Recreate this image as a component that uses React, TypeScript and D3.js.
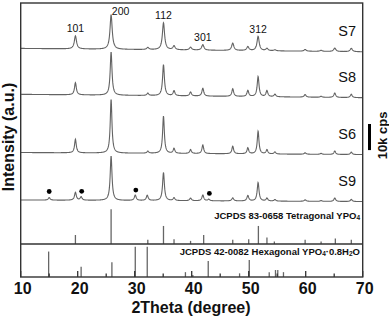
import React from 'react';
import * as d3 from 'd3';

// ---------- data ----------
const xDomain = [10, 70];
const xMajorTicks = [10, 20, 30, 40, 50, 60, 70];
const xMinorTicks = [15, 25, 35, 45, 55, 65];

const sampleNames = ['S7', 'S8', 'S6', 'S9'];
// tetragonal YPO4 reflections seen in the measured patterns (2θ, degree)
const peakPositions = [19.6, 25.86, 32.3, 35.05, 36.9, 39.8, 41.95, 47.2, 49.85, 51.65, 53.2, 54.6, 59.9, 62.7, 65.1, 68.0];
// peak heights above background (kcps)
const s7Heights = [5.0, 13.2, 0.8, 10.3, 1.5, 1.1, 2.1, 2.8, 1.5, 5.5, 0.9, 0.4, 0.65, 0.4, 1.3, 1.3];
const s8Heights = [4.7, 16.5, 0.9, 11.9, 1.9, 1.5, 3.0, 2.9, 2.3, 7.7, 2.3, 1.0, 1.0, 0.4, 1.7, 1.3];
const s6Heights = [5.2, 20.6, 0.8, 14.3, 1.9, 1.5, 3.3, 2.9, 2.3, 8.7, 1.6, 0.8, 0.6, 0.4, 1.3, 0.9];
const s9Heights = [3.0, 17.0, 0.0, 10.8, 1.1, 1.0, 2.2, 1.2, 2.1, 7.1, 1.1, 0.6, 0.6, 0.3, 1.3, 0.8];
// hexagonal YPO4·0.8H2O reflections present in S9
const s9HexPositions = [15.0, 20.6, 30.1, 32.2, 43.0];
const s9HexHeights = [1.0, 1.3, 2.1, 2.0, 0.6];
// background level at 10° and 70° (kcps, including vertical stacking offset)
const backgroundLeft = [87.6, 70.0, 47.7, 29.5];
const backgroundRight = [86.3, 68.7, 46.9, 28.9];
const peakFwhm = [0.46, 0.38, 0.36, 0.38];

const impurityMarkers = [15.0, 20.7, 30.2, 43.1];

const hklLabels = ['101', '200', '112', '301', '312'];
const hklPositions = [19.6, 25.86, 35.05, 41.95, 51.65];

// JCPDS 83-0658 tetragonal YPO4 (relative intensity)
const tetraPositions = [19.6, 25.86, 32.3, 35.05, 36.9, 39.8, 42.1, 47.2, 50.0, 51.7, 53.2, 54.5, 59.9, 62.7, 65.2, 68.0];
const tetraIntensity = [26, 100, 12, 52, 14, 9, 26, 12, 14, 52, 19, 7, 12, 7, 16, 12];
// JCPDS 42-0082 hexagonal YPO4·0.8H2O (relative intensity)
const hexPositions = [14.9, 20.6, 26.0, 30.1, 32.2, 38.9, 40.2, 42.9, 48.4, 50.1, 53.6, 54.7, 55.1, 56.1];
const hexIntensity = [84, 34, 49, 100, 100, 16, 7, 53, 12, 56, 16, 23, 23, 16];

// ---------- layout ----------
const W = 389, H = 320;
const L = 20.7, R = 362.7, T = 3, B = 277, DIV = 244;
const FONT = 'Liberation Sans, Arial, Helvetica, sans-serif';

const x = d3.scaleLinear().domain(xDomain).range([L, R]);
const y = d3.scaleLinear().domain([0, 105]).range([B, T]);
const yTetra = d3.scaleLinear().domain([0, 100]).range([DIV, 209.3]);
const yHex = d3.scaleLinear().domain([0, 100]).range([B, 246.7]);

const heightsBySample = [s7Heights, s8Heights, s6Heights, s9Heights];

function profile(i: number, t: number): number {
  const bg = backgroundLeft[i] + (backgroundRight[i] - backgroundLeft[i]) * (t - xDomain[0]) / (xDomain[1] - xDomain[0]);
  const hw = peakFwhm[i] / 2;
  let v = bg;
  const hs = heightsBySample[i];
  peakPositions.forEach((p, k) => {
    const u = (t - p) / hw;
    v += hs[k] / (1 + u * u);
  });
  if (i === 3) {
    s9HexPositions.forEach((p, k) => {
      const u = (t - p) / hw;
      v += s9HexHeights[k] / (1 + u * u);
    });
  }
  return v;
}

const grid = d3.range(xDomain[0], xDomain[1] + 1e-9, 0.04);
const line = d3.line<[number, number]>().x(d => x(d[0])).y(d => y(d[1]));

export default function App() {
  const traces = sampleNames.map((_, i) => grid.map(t => [t, profile(i, t)] as [number, number]));
  return (
    <svg width={W} height={H} style={{ position: 'absolute', left: 0, top: 0, background: '#fff' }} fontFamily={FONT}>
      {/* traces */}
      {traces.map((pts, i) => (
        <path key={i} d={line(pts) || ''} fill="none" stroke="#636363" strokeWidth={1.1} />
      ))}
      {/* sample labels */}
      {sampleNames.map((n, i) => (
        <text key={n} x={356} y={y(backgroundRight[i]) - 15.5} textAnchor="end" fontSize={14.5} fill="#111">{n}</text>
      ))}
      {/* hkl labels */}
      {hklLabels.map((lab, k) => {
        const isTop = lab === '200';
        return (
          <text key={lab} x={x(hklPositions[k]) + (isTop ? 9.5 : 0)} y={y(profile(0, hklPositions[k])) + (isTop ? 0.5 : -3.5)}
            textAnchor="middle" fontSize={10.5} fill="#111">{lab}</text>
        );
      })}
      {/* impurity markers */}
      {impurityMarkers.map((p, k) => (
        <circle key={k} cx={x(p)} cy={y(profile(3, p)) - 6} r={2.4} fill="#000" />
      ))}
      {/* reference sticks */}
      {tetraPositions.map((p, k) => (
        <line key={'t' + k} x1={x(p)} x2={x(p)} y1={yTetra(0)} y2={yTetra(tetraIntensity[k])} stroke="#666" strokeWidth={1.3} />
      ))}
      {hexPositions.map((p, k) => (
        <line key={'h' + k} x1={x(p)} x2={x(p)} y1={yHex(0)} y2={yHex(hexIntensity[k])} stroke="#666" strokeWidth={1.3} />
      ))}
      <text x={360} y={218.5} textAnchor="end" fontSize={9.5} fontWeight="bold" fill="#111">
        JCPDS 83-0658 Tetragonal YPO<tspan fontSize={6.5} dy={1.5}>4</tspan>
      </text>
      <text x={360} y={254.5} textAnchor="end" fontSize={9.5} fontWeight="bold" fill="#111">
        JCPDS 42-0082 Hexagonal YPO<tspan fontSize={6.5} dy={1.5}>4</tspan><tspan dy={-1.5}>·0.8H</tspan><tspan fontSize={6.5} dy={1.5}>2</tspan><tspan dy={-1.5}>O</tspan>
      </text>
      {/* frame */}
      <rect x={L} y={T} width={R - L} height={B - T} fill="none" stroke="#333" strokeWidth={1.4} />
      <line x1={L} x2={R} y1={DIV} y2={DIV} stroke="#333" strokeWidth={1.4} />
      {/* ticks */}
      {xMajorTicks.map(t => (
        <g key={'M' + t}>
          <line x1={x(t)} x2={x(t)} y1={B} y2={B - 6} stroke="#333" strokeWidth={1.3} />
          <text x={x(t) + 2} y={294} textAnchor="middle" fontSize={16} fontWeight="bold" fill="#111">{t}</text>
        </g>
      ))}
      {xMinorTicks.map(t => (
        <line key={'m' + t} x1={x(t)} x2={x(t)} y1={B} y2={B - 3.5} stroke="#333" strokeWidth={1.3} />
      ))}
      {/* axis titles */}
      <text x={191} y={313.3} textAnchor="middle" fontSize={16} fontWeight="bold" fill="#111">2Theta (degree)</text>
      <text transform="translate(14,137) rotate(-90)" textAnchor="middle" fontSize={16} fontWeight="bold" fill="#111">Intensity (a.u.)</text>
      {/* scale bar */}
      <line x1={369.5} x2={369.5} y1={124} y2={124 + 10 * (y(0) - y(1))} stroke="#000" strokeWidth={3} />
      <text transform="translate(387,135.5) rotate(-90)" textAnchor="middle" fontSize={13} fontWeight="bold" fill="#111">10k cps</text>
    </svg>
  );
}
